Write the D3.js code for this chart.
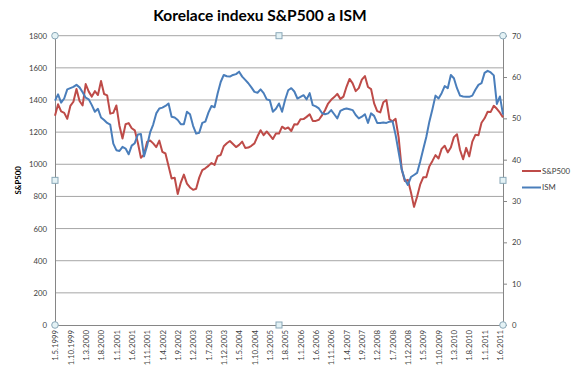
<!DOCTYPE html>
<html>
<head>
<meta charset="utf-8">
<script src="https://cdn.jsdelivr.net/npm/d3@7"></script>
<style>
  body { margin: 0; background: #fff; }
  svg { font-family: Lato, "Open Sans", sans-serif; }
</style>
</head>
<body>
<svg id="chart"></svg>
<script>
// Monthly closes of S&P500, May 1999 .. Jul 2011
const sp500 = [
  1302, 1373, 1329, 1320, 1283, 1363, 1389, 1469,
  1394, 1366, 1499, 1452, 1421, 1455, 1431, 1518, 1437, 1429, 1315, 1320,
  1366, 1240, 1160, 1249, 1256, 1224, 1211, 1134, 1041, 1060, 1139, 1148,
  1130, 1107, 1147, 1077, 1067, 990, 912, 916, 815, 886, 936, 880,
  856, 841, 848, 917, 964, 975, 990, 1008, 996, 1051, 1058, 1112,
  1131, 1145, 1126, 1107, 1121, 1141, 1102, 1104, 1115, 1130, 1174, 1212,
  1181, 1204, 1181, 1157, 1192, 1191, 1234, 1220, 1229, 1207, 1249, 1248,
  1280, 1281, 1295, 1311, 1270, 1270, 1277, 1304, 1336, 1378, 1401, 1418,
  1438, 1407, 1421, 1482, 1531, 1503, 1455, 1474, 1527, 1549, 1481, 1468,
  1379, 1331, 1323, 1386, 1400, 1280, 1267, 1283, 1166, 969, 896, 903,
  826, 735, 798, 873, 919, 919, 987, 1021, 1057, 1036, 1096, 1115,
  1074, 1104, 1169, 1187, 1089, 1031, 1102, 1049, 1141, 1183, 1181, 1258,
  1286, 1327, 1326, 1364, 1345, 1321, 1292
];

// ISM manufacturing index, same months
const ism = [
  54.3, 55.8, 53.8, 54.8, 57.0, 57.3, 57.6, 58.1,
  57.5, 56.3, 55.0, 54.6, 53.2, 51.6, 52.3, 50.2, 49.6, 48.9, 48.5, 43.9,
  42.3, 42.1, 43.1, 42.7, 41.3, 43.4, 44.0, 46.1, 46.2, 40.8, 43.3, 46.6,
  48.5, 51.2, 52.4, 52.6, 53.0, 53.6, 50.4, 50.2, 49.6, 48.6, 48.6, 51.6,
  51.0, 48.2, 46.3, 46.5, 48.9, 49.2, 51.4, 53.0, 52.7, 56.0, 58.8, 60.5,
  60.2, 60.1, 60.5, 60.7, 61.3, 60.1, 59.3, 58.5, 57.5, 56.4, 56.2, 57.0,
  56.1, 54.6, 54.4, 51.6, 52.3, 53.6, 51.6, 54.5, 56.8, 57.3, 56.5, 54.8,
  55.2, 55.6, 54.6, 56.1, 53.2, 52.9, 52.4, 51.3, 51.0, 51.2, 52.0, 51.0,
  50.0, 51.8, 52.2, 52.4, 52.2, 52.0, 50.8, 50.0, 50.4, 51.0, 48.9, 51.2,
  50.6, 48.9, 48.9, 49.0, 48.9, 49.2, 49.3, 46.0, 41.8, 37.6, 35.2, 33.9,
  35.8, 36.3, 36.8, 39.5, 42.5, 45.5, 49.2, 52.2, 55.5, 54.8, 56.1, 57.8,
  57.3, 60.5, 59.7, 57.3, 55.5, 55.3, 55.2, 55.2, 55.5, 56.9, 58.1, 58.5,
  61.0, 61.5, 61.1, 60.4, 53.5, 55.3, 50.9
];

const tickLabels = [
  "1.5.1999", "1.10.1999", "1.3.2000", "1.8.2000", "1.1.2001", "1.6.2001",
  "1.11.2001", "1.4.2002", "1.9.2002", "1.2.2003", "1.7.2003", "1.12.2003",
  "1.5.2004", "1.10.2004", "1.3.2005", "1.8.2005", "1.1.2006", "1.6.2006",
  "1.11.2006", "1.4.2007", "1.9.2007", "1.2.2008", "1.7.2008", "1.12.2008",
  "1.5.2009", "1.10.2009", "1.3.2010", "1.8.2010", "1.1.2011", "1.6.2011"
];

const leftTicks = [0, 200, 400, 600, 800, 1000, 1200, 1400, 1600, 1800];
const rightTicks = [0, 10, 20, 30, 40, 50, 60, 70];

// category labels d.m.yyyy for each month
const categories = d3.timeMonth
  .range(new Date(1999, 4, 1), new Date(2011, 7, 1))
  .map(d => `1.${d.getMonth() + 1}.${d.getFullYear()}`);

const width = 579, height = 377;
const plotL = 55, plotR = 503, plotT = 35.7, plotB = 325;
const red = "#be4b48", blue = "#4a7ebb";

const svg = d3.select("#chart").attr("width", width).attr("height", height);

const x = d3.scalePoint().domain(categories).range([plotL, plotR]);
const yL = d3.scaleLinear().domain([0, 1800]).range([plotB, plotT]);
const yR = d3.scaleLinear().domain([0, 70]).range([plotB, plotT]);

// title
svg.append("text")
  .attr("x", 260).attr("y", 21)
  .attr("text-anchor", "middle")
  .attr("font-size", "15.5px").attr("font-weight", "bold")
  .attr("fill", "#000")
  .text("Korelace indexu S&P500 a ISM");

// gridlines
svg.append("g")
  .selectAll("line")
  .data(leftTicks.slice(1))
  .enter().append("line")
  .attr("x1", plotL).attr("x2", plotR)
  .attr("y1", d => yL(d)).attr("y2", d => yL(d))
  .attr("stroke", "#a6a6a6").attr("stroke-width", 1);

// left axis
const gL = svg.append("g")
  .attr("transform", `translate(${plotL},0)`)
  .call(d3.axisLeft(yL).tickValues(leftTicks).tickFormat(d3.format("d")).tickSize(0).tickPadding(8));
gL.select(".domain").attr("stroke", "#868686");
gL.selectAll("text").attr("font-size", "7.8px").attr("fill", "#404040").attr("font-family", "Lato");

// right axis
const gR = svg.append("g")
  .attr("transform", `translate(${plotR},0)`)
  .call(d3.axisRight(yR).tickValues(rightTicks).tickSize(4).tickPadding(5));
gR.select(".domain").attr("stroke", "#868686");
gR.selectAll(".tick line").attr("stroke", "#868686");
gR.selectAll("text").attr("font-size", "7.8px").attr("fill", "#404040").attr("font-family", "Lato");

// bottom axis
const gB = svg.append("g")
  .attr("transform", `translate(0,${plotB})`)
  .call(d3.axisBottom(x).tickValues(tickLabels).tickSize(0));
gB.select(".domain").attr("stroke", "#868686");
gB.selectAll("text")
  .attr("font-size", "7.8px").attr("fill", "#404040").attr("font-family", "Lato")
  .attr("text-anchor", "end")
  .attr("transform", "rotate(-90)")
  .attr("x", -5).attr("y", 0).attr("dy", "0.35em");

// left axis title
svg.append("text")
  .attr("transform", `translate(21,${(plotT + plotB) / 2}) rotate(-90)`)
  .attr("text-anchor", "middle")
  .attr("font-size", "7.8px").attr("font-weight", "bold")
  .text("S&P500");

// lines
const lineL = d3.line().x((d, i) => x(categories[i])).y(d => yL(d));
const lineR = d3.line().x((d, i) => x(categories[i])).y(d => yR(d));

svg.append("path")
  .datum(sp500)
  .attr("d", lineL)
  .attr("fill", "none").attr("stroke", red).attr("stroke-width", 2)
  .attr("stroke-linejoin", "round");

svg.append("path")
  .datum(ism)
  .attr("d", lineR)
  .attr("fill", "none").attr("stroke", blue).attr("stroke-width", 2)
  .attr("stroke-linejoin", "round");

// selection handles of the plot area
const cx = (plotL + plotR) / 2, cy = (plotT + plotB) / 2;
const corners = [[plotL, plotT], [plotR, plotT], [plotL, plotB], [plotR, plotB]];
const mids = [[cx, plotT], [cx, plotB], [plotL, cy], [plotR, cy]];

svg.append("g").selectAll("circle")
  .data(corners).enter().append("circle")
  .attr("cx", d => d[0]).attr("cy", d => d[1]).attr("r", 3.3)
  .attr("fill", "#e4f2f5").attr("stroke", "#8aa8b8").attr("stroke-width", 1);

svg.append("g").selectAll("rect")
  .data(mids).enter().append("rect")
  .attr("x", d => d[0] - 3).attr("y", d => d[1] - 3)
  .attr("width", 6).attr("height", 6)
  .attr("fill", "#e4f2f5").attr("stroke", "#8aa8b8").attr("stroke-width", 1);

// legend
const legend = [["S&P500", red], ["ISM", blue]];
const lg = svg.append("g").selectAll("g")
  .data(legend).enter().append("g")
  .attr("transform", (d, i) => `translate(522,${171 + i * 16.5})`);
lg.append("line")
  .attr("x1", 0).attr("x2", 19).attr("y1", 0).attr("y2", 0)
  .attr("stroke", d => d[1]).attr("stroke-width", 2);
lg.append("text")
  .attr("x", 20).attr("y", 0).attr("dy", "0.35em")
  .attr("font-size", "7.8px").attr("fill", "#404040")
  .text(d => d[0]);
</script>
</body>
</html>
